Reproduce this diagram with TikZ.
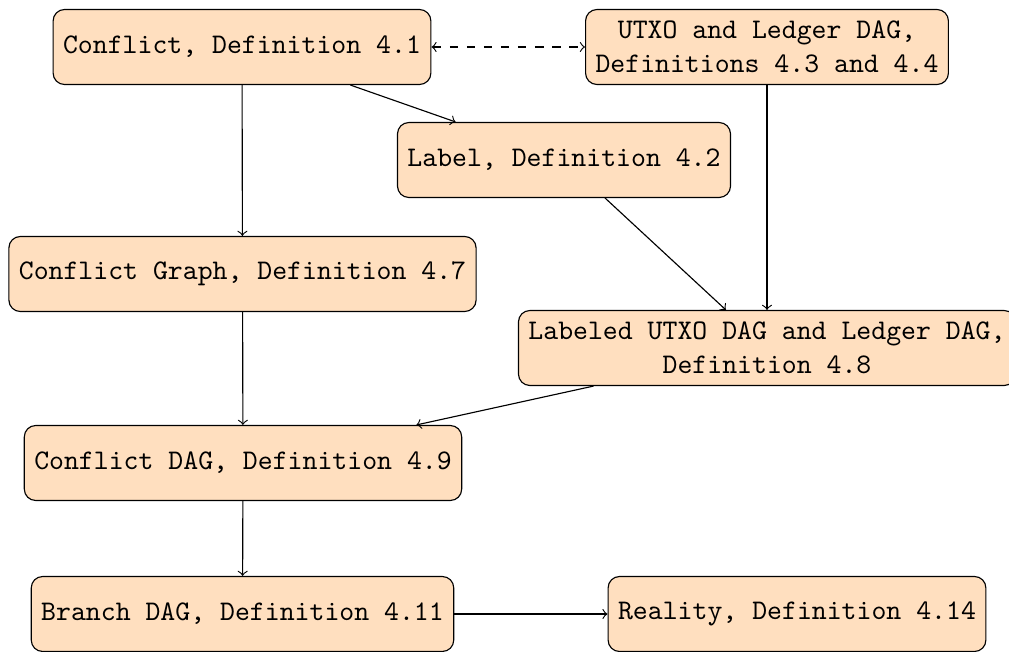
\documentclass[tikz,border=0pt]{standalone}
\usetikzlibrary{arrows}
\begin{document}
\begin{tikzpicture}[x=0.3521pt,y=-0.3521pt,
  box/.style={draw, rounded corners=4pt, fill=orange!25, font=\ttfamily, minimum height=26.4pt, align=center, inner sep=3.5pt, line width=0.4pt},
  arr/.style={->, >=to, line width=0.4pt}]
\useasboundingbox (0,0) rectangle (1009,652);
\node[box] (c41) at (242,47) {Conflict, Definition 4.1};
\node[box] (utxo) at (767,47) {UTXO and Ledger DAG,\\Definitions 4.3 and 4.4};
\node[box] (lab) at (564,160) {Label, Definition 4.2};
\node[box] (cg) at (242.5,274) {Conflict Graph, Definition 4.7};
\node[box] (ludag) at (767,348) {Labeled UTXO DAG and Ledger DAG,\\Definition 4.8};
\node[box] (cdag) at (243,463) {Conflict DAG, Definition 4.9};
\node[box] (bdag) at (242.5,614) {Branch DAG, Definition 4.11};
\node[box] (real) at (797,614) {Reality, Definition 4.14};
\draw[arr, <->, dashed] (c41) -- (utxo);
\draw[arr] (c41) -- (lab);
\draw[arr] (c41) -- (cg);
\draw[arr] (utxo) -- (ludag);
\draw[arr] (lab) -- (ludag);
\draw[arr] (cg) -- (cdag);
\draw[arr] (ludag) -- (cdag);
\draw[arr] (cdag) -- (bdag);
\draw[arr] (bdag) -- (real);
\end{tikzpicture}
\end{document}
